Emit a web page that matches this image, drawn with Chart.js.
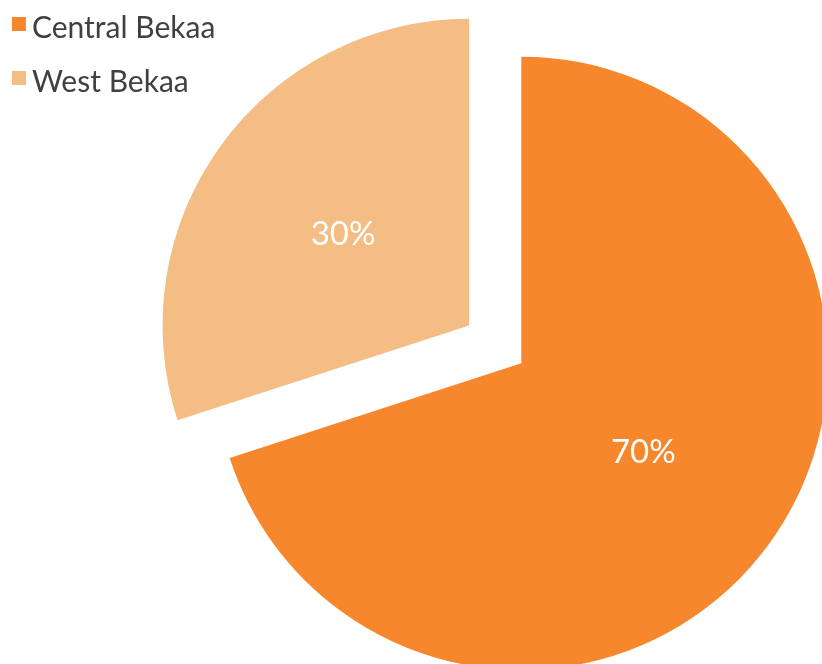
<!DOCTYPE html>
<html>
<head>
<meta charset="utf-8">
<title>Bekaa</title>
<script src="https://cdn.jsdelivr.net/npm/chart.js@4/dist/chart.umd.min.js"></script>
<style>
    html, body { margin: 0; padding: 0; background: #ffffff; overflow: hidden; }
    #wrap { position: relative; width: 822px; height: 664px; }
    #pie { position: absolute; left: 0; top: 0; }
    #legend { position: absolute; left: 0; top: 0; font-family: Lato, "Open Sans", sans-serif; font-size: 30px; color: #404040; }
    .item { position: absolute; left: 12px; white-space: nowrap; line-height: 1.2; }
    .box { position: absolute; left: 0; top: 9px; width: 14px; height: 14px; }
    .txt { position: absolute; left: 20px; top: 0; }
</style>
</head>
<body>
<div id="wrap">
    <canvas id="pie" width="822" height="664"></canvas>
    <div id="legend"></div>
</div>
<script>
    "use strict";

    const regions = ["Central Bekaa", "West Bekaa"];
    const shares = [70, 30];
    const sliceColors = ["#F6872C", "#F3BD84"];

    // pull-out distance per slice, in px
    const EXPLODE = [0, 64.5];

    function buildLegend() {
        const legend = document.getElementById("legend");
        legend.innerHTML = regions.map((name, i) => `
            <div class="item" style="top:${8 + i * 54}px">
                <span class="box" style="background:${sliceColors[i]}"></span>
                <span class="txt">${name}</span>
            </div>`).join("");
    }

    // shift each arc along its mid angle, the way an exploded pie looks
    const explodePlugin = {
        id: "explode",
        afterDatasetUpdate(chart, args) {
            args.meta.data.forEach((arc, i) => {
                const shift = EXPLODE[i] || 0;
                if (!shift || arc._exploded) return;
                const baseDraw = arc.draw;
                arc.draw = function (ctx) {
                    const mid = (this.startAngle + this.endAngle) / 2;
                    ctx.save();
                    ctx.translate(Math.cos(mid) * shift, Math.sin(mid) * shift);
                    baseDraw.call(this, ctx);
                    ctx.restore();
                };
                arc._exploded = true;
            });
        }
    };

    // percentage text in the middle of each slice
    const percentPlugin = {
        id: "percent",
        afterDatasetsDraw(chart) {
            const ctx = chart.ctx;
            const meta = chart.getDatasetMeta(0);
            const values = chart.data.datasets[0].data;
            const total = values.reduce((sum, v) => sum + v, 0);
            ctx.save();
            ctx.fillStyle = "#ffffff";
            ctx.font = "33px Lato, 'Open Sans', sans-serif";
            ctx.textAlign = "center";
            ctx.textBaseline = "middle";
            meta.data.forEach((arc, i) => {
                const mid = (arc.startAngle + arc.endAngle) / 2;
                const dist = (EXPLODE[i] || 0) + arc.outerRadius * 0.5;
                const x = arc.x + Math.cos(mid) * dist - 2;
                const y = arc.y + Math.sin(mid) * dist - 1;
                ctx.fillText(Math.round(values[i] / total * 100) + "%", x, y);
            });
            ctx.restore();
        }
    };

    buildLegend();

    new Chart(document.getElementById("pie").getContext("2d"), {
        type: "pie",
        data: {
            labels: regions,
            datasets: [{
                data: shares,
                backgroundColor: sliceColors,
                borderWidth: 0,
                clip: false
            }]
        },
        options: {
            responsive: false,
            animation: false,
            radius: 306.6,
            layout: { padding: { left: 220.6, top: 62.6, right: 0, bottom: 0 } },
            plugins: {
                legend: { display: false },
                tooltip: { enabled: false }
            }
        },
        plugins: [explodePlugin, percentPlugin]
    });
</script>
</body>
</html>
